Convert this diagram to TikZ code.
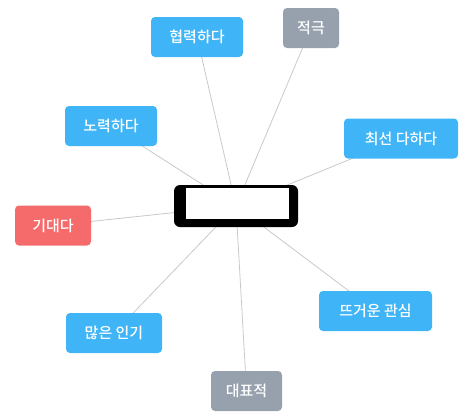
\documentclass[tikz,border=0pt]{standalone}
\usepackage{fontspec}
\newfontfamily\kr[UprightFont=* Medium]{Noto Sans CJK KR}
\usetikzlibrary{backgrounds}
\definecolor{kblue}{HTML}{3FB5F7}
\definecolor{kgray}{HTML}{97A1AD}
\definecolor{kred}{HTML}{F56B6B}
\definecolor{kline}{HTML}{C9C9C9}
\begin{document}
\begin{tikzpicture}[x=1pt,y=-1pt,
  tag/.style={rounded corners=4pt, text=white, minimum height=40pt, inner sep=0pt,
    font=\kr\fontsize{15}{17}\selectfont},
  bluetag/.style={tag, fill=kblue},
  graytag/.style={tag, fill=kgray},
  redtag/.style={tag, fill=kred},
  link/.style={draw=kline, line width=0.8pt}]
\useasboundingbox (0,0) rectangle (460,413);
\node[fill=black, rounded corners=6pt, minimum width=124pt, minimum height=42pt, inner sep=0pt] (c) at (236,206) {};
\node[fill=white, minimum width=103pt, minimum height=31pt, inner sep=0pt] (cin) at (237.5,203.5) {};
\node[bluetag, minimum width=92pt] (n1) at (197,37) {협력하다};
\node[graytag, minimum width=56pt] (n2) at (311,28) {적극};
\node[bluetag, minimum width=92pt] (n3) at (111,126) {노력하다};
\node[bluetag, minimum width=114pt] (n4) at (401,138.5) {최선 다하다};
\node[redtag, minimum width=76pt] (n5) at (53,225.5) {기대다};
\node[bluetag, minimum width=113pt] (n6) at (375.5,311) {뜨거운 관심};
\node[bluetag, minimum width=96pt] (n7) at (114,333) {많은 인기};
\node[graytag, minimum width=71pt] (n8) at (246.5,391) {대표적};
\begin{scope}[on background layer]
\foreach \n in {n1,n2,n3,n4,n5,n6,n7,n8}
  \draw[link] (c.center) -- (\n.center);
\end{scope}
\end{tikzpicture}
\end{document}
